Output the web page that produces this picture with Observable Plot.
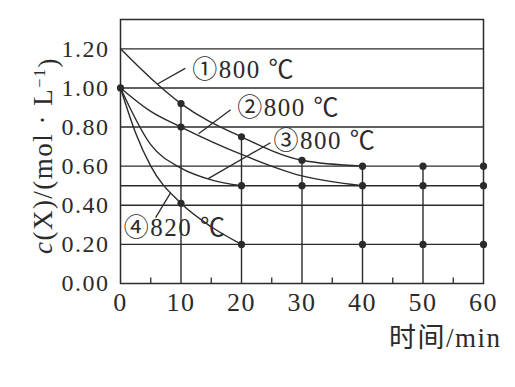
<!DOCTYPE html>
<html><head><meta charset="utf-8">
<script src="https://cdn.jsdelivr.net/npm/d3@7"></script>
<script src="https://cdn.jsdelivr.net/npm/@observablehq/plot@0.6"></script>
<style>html,body{margin:0;padding:0;background:#fff;} svg{display:block} svg text{font-family:"Liberation Serif","Noto Sans CJK SC",serif !important;}</style>
</head><body><div id="chart"></div>
<script>
// ticks and grid
const xTicks = [0, 10, 20, 30, 40, 50, 60];
const xMinor = [5, 15, 25, 35, 45, 55];
const yTicks = [0, 0.2, 0.4, 0.6, 0.8, 1.0, 1.2];
const gridY = [0.2, 0.4, 0.5, 0.6, 0.8, 1.0, 1.2];
// curves (time in min, c(X) in mol/L)
const c1T = [0, 5, 10, 20, 30, 40];      const c1V = [1.20, 1.05, 0.92, 0.75, 0.63, 0.60];
const c2T = [0, 5, 10, 20, 30, 40];      const c2V = [1.00, 0.88, 0.80, 0.66, 0.55, 0.50];
const c3T = [0, 5, 10, 15, 20];          const c3V = [1.00, 0.71, 0.59, 0.53, 0.50];
const c4T = [0, 2.5, 5, 10, 15, 20];     const c4V = [1.00, 0.77, 0.60, 0.41, 0.29, 0.20];
// measured points
const dotT = [0, 10, 10, 10, 20, 20, 20, 30, 30, 40, 40, 40, 50, 50, 50, 60, 60, 60];
const dotV = [1.00, 0.92, 0.80, 0.41, 0.75, 0.50, 0.20, 0.63, 0.50, 0.60, 0.50, 0.20, 0.60, 0.50, 0.20, 0.60, 0.50, 0.20];
// curve labels and leader lines
const labText = ["①800 ℃", "②800 ℃", "③800 ℃", "④820 ℃"];
const labT = [11.85, 19.3, 25.3, 0.55];
const labV = [1.093, 0.899, 0.730, 0.283];
const leadT1 = [6.1, 12.9, 14.5, 5.8];
const leadV1 = [1.02, 0.766, 0.536, 0.337];
const leadT2 = [10.7, 18.2, 24.8, 8.3];
const leadV2 = [1.10, 0.889, 0.72, 0.465];
const xLabel = "时间/min";
const yLabel = "c(X)/(mol · L⁻¹)";

const ink = "#2b2b2b";
const serif = "Liberation Serif, Noto Sans CJK SC, serif";

const curves = [[c1T, c1V, "1"], [c2T, c2V, "2"], [c3T, c3V, "3"], [c4T, c4V, "4"]]
  .flatMap(([T, V, id]) => T.map((t, i) => ({id, t, v: V[i]})));
const dots = dotT.map((t, i) => ({t, v: dotV[i]}));
const vLines = xTicks.filter(t => t > 0 && t < 60).map(t => ({t, top: d3.max(dots.filter(d => d.t === t), d => d.v)}));
const labels = labText.map((s, i) => ({s, t: labT[i], v: labV[i]}));
const leads = leadT1.map((t, i) => ({t1: t, v1: leadV1[i], t2: leadT2[i], v2: leadV2[i]}));

const chart = Plot.plot({
  width: 515, height: 387,
  marginLeft: 120, marginRight: 32, marginTop: 19, marginBottom: 104,
  style: {fontFamily: serif, fontSize: "25px", color: ink, background: "#fff", overflow: "visible"},
  x: {domain: [0, 60]},
  y: {domain: [0, 1.35]},
  marks: [
    Plot.ruleY(gridY, {stroke: ink, strokeWidth: 1.4}),
    Plot.ruleX(vLines, {x: "t", y1: 0, y2: "top", stroke: ink, strokeWidth: 1.4}),
    Plot.ruleX(xMinor, {x: d => d, y1: 0, y2: 0.028, stroke: ink, strokeWidth: 1.3}),
    Plot.frame({stroke: ink, strokeWidth: 1.5}),
    Plot.line(curves, {x: "t", y: "v", z: "id", curve: "monotone-x", stroke: ink, strokeWidth: 1.4}),
    Plot.link(leads, {x1: "t1", y1: "v1", x2: "t2", y2: "v2", stroke: ink, strokeWidth: 1.3}),
    Plot.dot(dots, {x: "t", y: "v", r: 3.6, fill: ink, stroke: "none"}),
    Plot.text(labels, {x: "t", y: "v", text: "s", textAnchor: "start", lineAnchor: "middle", fontSize: 25, fontFamily: serif, fill: ink}),
    Plot.axisY(yTicks, {tickSize: 0, tickPadding: 11, tickFormat: d3.format(".2f"), label: null, fontSize: 24, fontFamily: serif, fill: ink}),
    Plot.axisX(xTicks, {tickSize: 0, tickPadding: 9, tickFormat: d => d, label: null, fontSize: 26, fontFamily: serif, fill: ink}),
    Plot.text([xLabel], {frameAnchor: "bottom-right", dx: 18, dy: 55, textAnchor: "end", lineAnchor: "middle", fontSize: 27, fontFamily: serif, fill: ink}),
    Plot.text([yLabel], {frameAnchor: "left", rotate: -90, dx: -77, dy: 4, textAnchor: "middle", lineAnchor: "middle", fontSize: 27, fontFamily: serif, fill: ink})
  ]
});
chart.style.letterSpacing = "1.5px";
chart.style.fontVariantNumeric = "normal";
// rich formatting for the y-axis label (italic c, superscript −1)
d3.select(chart).selectAll("text").filter(function() { return this.textContent === yLabel; }).each(function() {
  const t = d3.select(this);
  t.text(null);
  t.append("tspan").attr("font-style", "italic").text("c");
  t.append("tspan").text("(X)/(mol · L");
  t.append("tspan").attr("dy", "-0.45em").attr("font-size", "60%").text("−1");
  t.append("tspan").attr("dy", "0.45em").text(")");
});
document.getElementById("chart").appendChild(chart);
</script>
</body></html>
